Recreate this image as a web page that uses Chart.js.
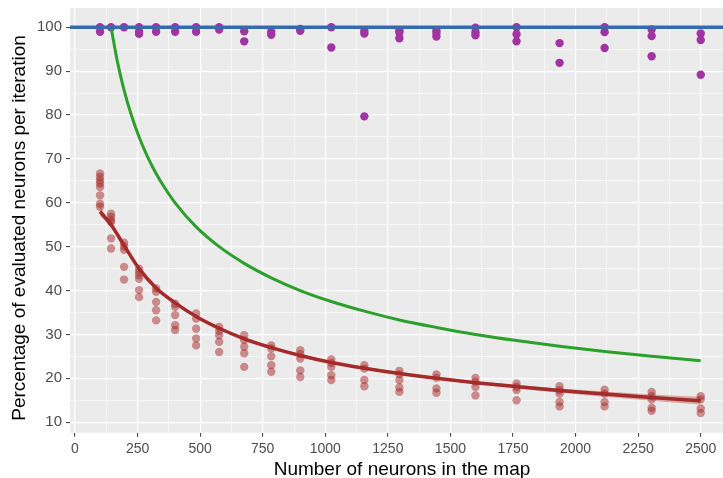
<!DOCTYPE html>
<html>
<head>
<meta charset="utf-8">
<script src="https://cdn.jsdelivr.net/npm/chart.js@4"></script>
<style>
  body { margin: 0; background: #fff; }
  canvas { display: block; }
</style>
</head>
<body>
<canvas id="grafico" width="723" height="478"></canvas>
<script>
// === Datos ===
const neurons = [100, 144, 196, 256, 324, 400, 484, 576, 676, 784, 900, 1024, 1156, 1296, 1444, 1600, 1764, 1936, 2116, 2304, 2500];

// puntos morados (cerca de 100%)
const purpleVals = [
  [100, 99], [100], [100], [100, 99, 98.5], [100, 99], [100, 99], [100, 99], [100, 99.5],
  [99.1, 96.8], [99, 98.3], [99.6, 99.2], [100, 95.4], [98.6, 99.2, 79.7], [99.3, 98.8, 97.5],
  [99.3, 98.7, 97.9], [99.9, 98.9, 98.2], [100, 98.4, 96.8], [96.4, 91.9], [100, 98.9, 95.3],
  [99.5, 98, 93.4], [98.6, 97.1, 89.2]
];

// puntos rojos (semi transparentes)
const redVals = [
  [66.7, 65.9, 65.1, 64.4, 63.6, 61.7, 59.8, 59.1],
  [57.5, 56.8, 56.0, 55.6, 51.9, 49.6],
  [50.9, 50.1, 49.3, 45.4, 42.5],
  [45.0, 44.2, 43.5, 42.7, 40.1, 38.5],
  [40.5, 39.7, 37.4, 35.5, 33.2],
  [37.0, 36.3, 34.4, 32.1, 31.0],
  [34.8, 33.6, 31.3, 29.1, 27.5],
  [31.7, 30.8, 29.8, 28.3, 26.0],
  [29.8, 28.7, 27.2, 25.7, 22.6],
  [27.5, 26.8, 25.0, 23.0, 21.5],
  [26.4, 25.5, 24.5, 21.8, 20.3],
  [24.3, 23.5, 22.6, 20.7, 19.6],
  [23.0, 22.2, 19.6, 18.2],
  [21.7, 20.9, 19.6, 17.9, 16.9],
  [20.9, 20.1, 17.7, 16.7],
  [20.1, 19.2, 18.0, 16.1],
  [18.8, 18.0, 17.3, 15.0],
  [18.2, 17.3, 16.5, 14.6, 13.6],
  [17.4, 16.5, 14.6, 13.6],
  [16.9, 16.0, 15.2, 13.3, 12.6],
  [15.9, 15.2, 13.1, 12.1]
];

// curva ajustada roja y su banda
const fitVals  = [58.0, 55.0, 50.3, 45.0, 40.6, 37.2, 34.1, 31.4, 29.0, 27.0, 25.2, 23.6, 22.3, 21.1, 20.0, 19.0, 18.1, 17.2, 16.4, 15.6, 14.9];
const fitLow   = [57.0, 54.3, 49.8, 44.6, 40.3, 36.9, 33.8, 31.1, 28.7, 26.7, 24.9, 23.3, 22.0, 20.8, 19.7, 18.7, 17.7, 16.7, 15.8, 14.9, 14.0];
const fitHigh  = [59.0, 55.7, 50.8, 45.4, 40.9, 37.5, 34.4, 31.7, 29.3, 27.3, 25.5, 23.9, 22.6, 21.4, 20.3, 19.3, 18.5, 17.7, 17.0, 16.3, 15.8];

// curva verde
const greenX    = [144, 169, 196, 225, 256, 289, 324, 361, 400, 484, 576, 676, 784, 900, 1024, 1156, 1296, 1444, 1600, 1764, 1936, 2116, 2304, 2500];
const greenVals = [100, 92.3, 85.7, 80, 75, 70.6, 66.7, 63.2, 60, 54.5, 50, 46.2, 42.9, 40, 37.5, 35.3, 33.3, 31.6, 30, 28.6, 27.3, 26.1, 25, 24];

// ejes
const xTicks = [0, 125, 250, 375, 500, 625, 750, 875, 1000, 1125, 1250, 1375, 1500, 1625, 1750, 1875, 2000, 2125, 2250, 2375, 2500];
const yTicks = [10, 15, 20, 25, 30, 35, 40, 45, 50, 55, 60, 65, 70, 75, 80, 85, 90, 95, 100];
const xTitle = 'Number of neurons in the map';
const yTitle = 'Percentage of evaluated neurons per iteration';

const toPoints = (xs, ys) => xs.map((x, i) => ({ x: x, y: ys[i] }));
const flatPoints = (vals) => {
  const out = [];
  vals.forEach((arr, i) => arr.forEach(v => out.push({ x: neurons[i], y: v })));
  return out;
};

// fondo gris del panel
const panelBg = {
  id: 'panelBg',
  beforeDraw(chart) {
    const { ctx, chartArea: a } = chart;
    ctx.save();
    ctx.fillStyle = '#EBEBEB';
    ctx.fillRect(a.left, a.top, a.right - a.left, a.bottom - a.top);
    ctx.restore();
  }
};

// titulos de los ejes (posicion como en ggplot)
const axisTitles = {
  id: 'axisTitles',
  afterDraw(chart) {
    const ctx = chart.ctx;
    ctx.save();
    ctx.font = '19px "Liberation Sans"';
    ctx.fillStyle = '#000000';
    ctx.textAlign = 'center';
    ctx.textBaseline = 'alphabetic';
    ctx.fillText(xTitle, 402, 475);
    ctx.translate(25, 228);
    ctx.rotate(-Math.PI / 2);
    ctx.fillText(yTitle, 0, 0);
    ctx.restore();
  }
};

const xTickFont = { family: 'Liberation Sans', size: 14 };
const yTickFont = { family: 'Liberation Sans', size: 15 };

new Chart(document.getElementById('grafico').getContext('2d'), {
  type: 'scatter',
  data: {
    datasets: [
      {
        data: [{ x: -20, y: 100 }, { x: 2589, y: 100 }],
        showLine: true, borderColor: '#3968AC', borderWidth: 3.5, pointRadius: 0, order: 0
      },
      {
        data: toPoints(greenX, greenVals),
        showLine: true, borderColor: '#2CA02C', borderWidth: 3, pointRadius: 0,
        cubicInterpolationMode: 'monotone', order: 1
      },
      {
        data: toPoints(neurons, fitVals),
        showLine: true, borderColor: '#A52A2A', borderWidth: 3.5, pointRadius: 0,
        cubicInterpolationMode: 'monotone', order: 2
      },
      {
        data: toPoints(neurons, fitHigh),
        showLine: true, borderColor: 'rgba(0,0,0,0)', borderWidth: 0, pointRadius: 0,
        cubicInterpolationMode: 'monotone', order: 3
      },
      {
        data: toPoints(neurons, fitLow),
        showLine: true, borderColor: 'rgba(0,0,0,0)', borderWidth: 0, pointRadius: 0,
        cubicInterpolationMode: 'monotone', fill: '-1', backgroundColor: 'rgba(165,42,42,0.35)', order: 4
      },
      {
        data: flatPoints(purpleVals),
        pointRadius: 4.2, pointBackgroundColor: '#A233A2', pointBorderWidth: 0, order: 5
      },
      {
        data: flatPoints(redVals),
        pointRadius: 4.2, pointBackgroundColor: 'rgba(165,42,42,0.5)', pointBorderWidth: 0, order: 6
      }
    ]
  },
  options: {
    responsive: false,
    animation: false,
    layout: { autoPadding: false, padding: { left: 0, right: 0, top: 8, bottom: 0 } },
    plugins: { legend: { display: false }, tooltip: { enabled: false } },
    scales: {
      x: {
        type: 'linear',
        min: -20, max: 2589,
        afterBuildTicks: s => { s.ticks = xTicks.map(v => ({ value: v })); },
        afterFit: s => { s.height = 45.3; s.paddingLeft = 0; s.paddingRight = 0; },
        border: { display: false },
        grid: {
          color: '#FFFFFF',
          lineWidth: c => (c.tick && c.tick.value % 250 === 0) ? 1.2 : 0.6,
          tickColor: c => (c.tick && c.tick.value % 250 === 0) ? '#333333' : 'rgba(0,0,0,0)',
          tickLength: 4, tickWidth: 1
        },
        ticks: {
          autoSkip: false, maxRotation: 0, padding: 4, color: '#4D4D4D', font: xTickFont,
          callback: v => (v % 250 === 0 ? v : '')
        },
        title: { display: false }
      },
      y: {
        type: 'linear',
        min: 7.6, max: 104.4,
        afterBuildTicks: s => { s.ticks = yTicks.map(v => ({ value: v })); },
        afterFit: s => { s.width = 70; s.paddingTop = 0; s.paddingBottom = 0; },
        border: { display: false },
        grid: {
          color: '#FFFFFF',
          lineWidth: c => (c.tick && c.tick.value % 10 === 0) ? 1.2 : 0.6,
          tickColor: c => (c.tick && c.tick.value % 10 === 0) ? '#333333' : 'rgba(0,0,0,0)',
          tickLength: 4, tickWidth: 1
        },
        ticks: {
          autoSkip: false, padding: 4, color: '#4D4D4D', font: yTickFont,
          callback: v => (v % 10 === 0 ? v : '')
        },
        title: { display: false }
      }
    }
  },
  plugins: [panelBg, axisTitles]
});
</script>
</body>
</html>
